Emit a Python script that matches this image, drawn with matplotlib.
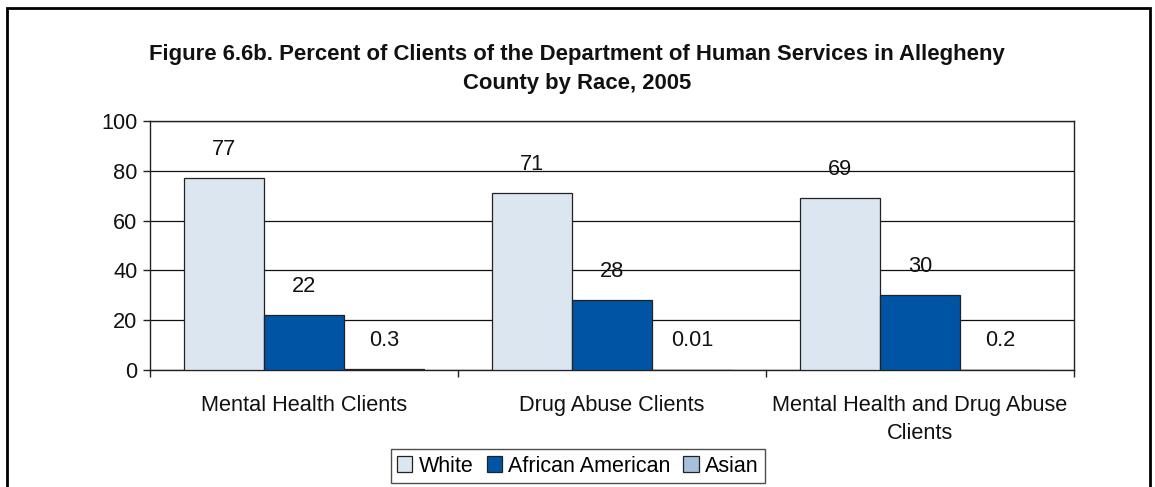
import matplotlib
matplotlib.use("Agg")
import matplotlib.pyplot as plt
from matplotlib.patches import Rectangle
import numpy as np

plt.rcParams['font.family'] = ['Liberation Sans', 'DejaVu Sans']

categories = ["Mental Health Clients", "Drug Abuse Clients", "Mental Health and Drug Abuse\nClients"]
series_names = ["White", "African American", "Asian"]
white = [77, 71, 69]
african_american = [22, 28, 30]
asian = [0.3, 0.01, 0.2]
value_labels = [["77", "71", "69"], ["22", "28", "30"], ["0.3", "0.01", "0.2"]]
colors = ["#DCE6F1", "#0054A4", "#A6C0DC"]
title = "Figure 6.6b. Percent of Clients of the Department of Human Services in Allegheny\nCounty by Race, 2005"

FS = 15.7

fig = plt.figure(figsize=(11.55, 4.87), dpi=100)
ax = fig.add_axes([150/1155, (487-370)/487, (1074-150)/1155, (370-121)/487])

x = np.arange(len(categories))
w = 0.26
series = [white, african_american, asian]
for i, (vals, name, col) in enumerate(zip(series, series_names, colors)):
    bars = ax.bar(x + (i - 1) * w, vals, width=w, color=col, edgecolor="#222222",
                  linewidth=0.9, label=name, zorder=3)
    for b, lab in zip(bars, value_labels[i]):
        ax.annotate(lab, (b.get_x() + b.get_width() / 2, b.get_height()),
                    xytext=(0, 21), textcoords="offset points",
                    ha="center", va="center", fontsize=FS, color="#111111")

ax.set_xlim(-0.5, 2.5)
ax.set_ylim(0, 100)
ax.set_yticks([0, 20, 40, 60, 80, 100])
ax.set_xticks(x)
ax.set_xticklabels(categories, fontsize=FS, color="#111111", linespacing=1.45)
ax.set_xticks([-0.5, 0.5, 1.5, 2.5], minor=True)
ax.tick_params(axis="x", which="major", length=0, pad=18)
ax.tick_params(axis="x", which="minor", length=5, width=1, color="#222222", direction="out")
ax.tick_params(axis="y", length=5, width=1, color="#222222", labelsize=FS, labelcolor="#111111", pad=4)
ax.yaxis.grid(True, color="#111111", linewidth=0.9, zorder=0)
ax.set_axisbelow(True)
for s in ax.spines.values():
    s.set_color("#222222")
    s.set_linewidth(1.0)

fig.text(577/1155, 1 - 69/487, title, ha="center", va="center", fontsize=15.9,
         fontweight="bold", color="#111111", linespacing=1.45)

leg = fig.legend(loc="center", bbox_to_anchor=(578/1155, 1 - 466/487), ncol=3,
                 frameon=True, fancybox=False, edgecolor="#222222", fontsize=15.5,
                 handlelength=0.7, handleheight=0.7, handletextpad=0.3,
                 columnspacing=0.6, borderpad=0.3)
leg.get_frame().set_linewidth(1.0)

fig.patches.append(Rectangle((7/1155, -0.05), (1150-7)/1155, 1.05 - 8/487,
                             transform=fig.transFigure, fill=False,
                             edgecolor="#000000", linewidth=2.0))

fig.savefig("out.png", dpi=100)
